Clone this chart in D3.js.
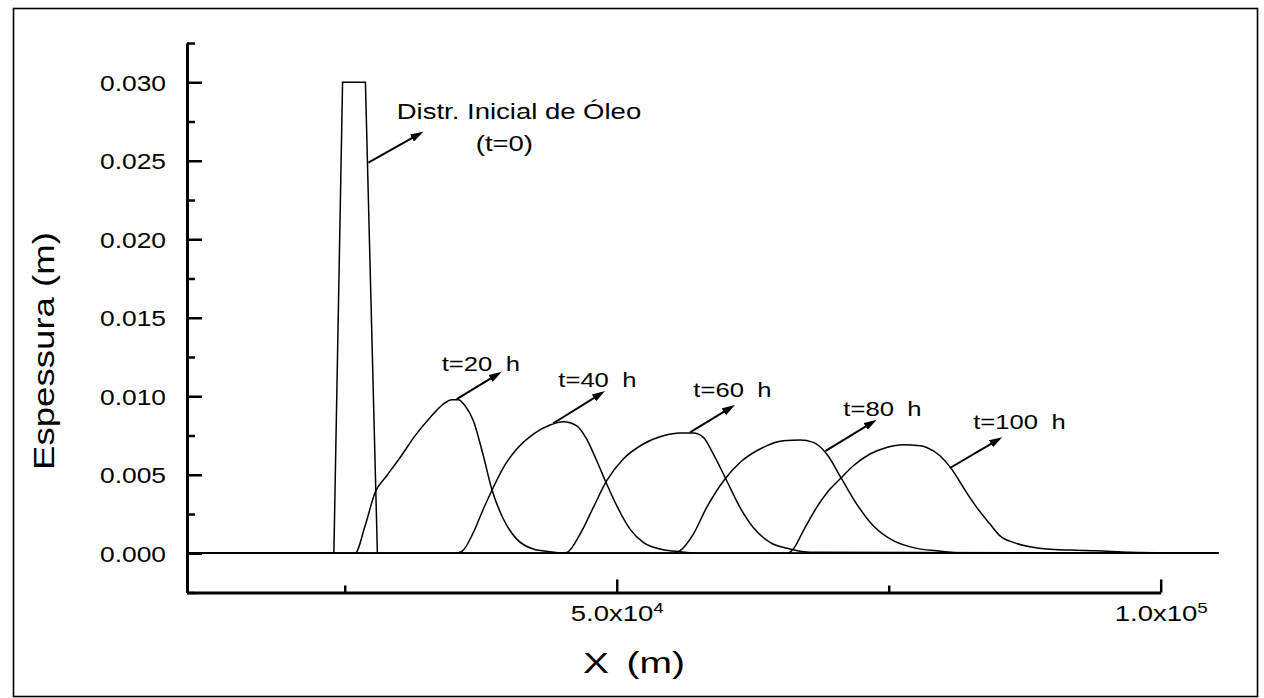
<!DOCTYPE html>
<html>
<head>
<meta charset="utf-8">
<script src="https://cdn.jsdelivr.net/npm/d3@7"></script>
<style>
  html, body { margin: 0; padding: 0; background: #fff; }
  svg { display: block; }
  text { font-family: "Liberation Sans", Arial, Helvetica, sans-serif; fill: #000; }
</style>
</head>
<body>
<svg id="chart" width="1264" height="698"></svg>
<script>
// ---- Oil slick thickness profiles along the channel: X (m) vs Espessura (m) ----

// initial distribution (t = 0)
const xInit = [10500, 24000, 24800, 26900, 28000, 105300];
const hInit = [0, 0, 0.030, 0.030, 0, 0];

// t = 20 h
const x20 = [10500, 25950, 26870, 27790, 28860, 30090, 31470, 32850, 34060, 34830, 35440, 36060,
             36820, 37740, 38510, 39580, 40810, 42330, 43870, 45700, 105300];
const h20 = [0, 0, 0.00175, 0.00387, 0.00494, 0.0061, 0.00749, 0.00865, 0.0095, 0.00978, 0.00978, 0.00939,
             0.00844, 0.00621, 0.00409, 0.00218, 0.0009, 0.00027, 0.0001, 0, 0];

// t = 40 h
const x40 = [10500, 35140, 35750, 36820, 37740, 38510, 39580, 40810, 42330, 43870, 45090, 46320,
             47240, 48160, 49080, 50000, 51220, 52440, 54280, 55820, 57650, 105300];
const h40 = [0, 0, 0.00011, 0.00132, 0.00282, 0.00398, 0.00546, 0.00664, 0.00759, 0.00817, 0.00838, 0.00812,
             0.00727, 0.00589, 0.00441, 0.00303, 0.00154, 0.00069, 0.00022, 0.0001, 0, 0];

// t = 60 h
const x60 = [10500, 44800, 45400, 46630, 47850, 49080, 50600, 52440, 54280, 55820, 57040, 57960,
             58880, 60110, 61330, 62550, 64090, 65930, 67770, 105300];
const h60 = [0, 0, 0.00005, 0.00122, 0.00292, 0.00462, 0.006, 0.00696, 0.00748, 0.00766, 0.00766, 0.00738,
             0.00632, 0.00462, 0.00292, 0.00164, 0.00069, 0.00027, 0.00006, 0];

// t = 80 h
const x80 = [10500, 55200, 55820, 57040, 58270, 59950, 61330, 63170, 65310, 66850, 68070, 69300,
             70680, 72060, 73580, 75420, 77570, 79410, 81550, 105300];
const h80 = [0, 0, 0.00016, 0.00122, 0.00292, 0.00473, 0.00578, 0.00664, 0.00717, 0.00721, 0.00706, 0.00632,
             0.00473, 0.00313, 0.00175, 0.0008, 0.00031, 0.00016, 0.00003, 0];

// t = 100 h
const x100 = [10500, 65700, 66230, 67150, 68380, 69610, 70520, 71750, 73280, 74820, 76340, 77880,
              78490, 79710, 80790, 81860, 83090, 84310, 85230, 86450, 87980, 89520, 91660, 94120,
              97180, 105300];
const h100 = [0, 0, 0.00027, 0.00143, 0.00292, 0.00409, 0.00473, 0.00557, 0.00632, 0.00674, 0.00691, 0.00685,
              0.00674, 0.00621, 0.00536, 0.00419, 0.00292, 0.00186, 0.00111, 0.00069, 0.00041, 0.00027, 0.0002, 0.00016,
              0.00006, 0];

// axis ticks and their labels
const yTicks = [0, 0.005, 0.010, 0.015, 0.020, 0.025, 0.030];
const yTickLabels = ["0.000", "0.005", "0.010", "0.015", "0.020", "0.025", "0.030"];
const yMinorTicks = [-0.0025, 0.0025, 0.0075, 0.0125, 0.0175, 0.0225, 0.0275, 0.0325];
const xTicks = [50000, 100000];
const xTickMantissa = ["5.0", "1.0"];
const xTickExponent = ["4", "5"];
const xMinorTicks = [25000, 75000];

// curve labels
const curveLabels = ["t=20 h", "t=40 h", "t=60 h", "t=80 h", "t=100 h"];

// ---- layout ----
const svg = d3.select("#chart");
const x = d3.scaleLinear().domain([10500, 100000]).range([187, 1160.7]);
const y = d3.scaleLinear().domain([-0.0025, 0.0325]).range([592.5, 43]);
const FONT = '"Liberation Sans", Arial, Helvetica, sans-serif';

// outer frame
svg.append("rect")
  .attr("x", 13.5).attr("y", 8.5).attr("width", 1244).attr("height", 688)
  .attr("fill", "none").attr("stroke", "#000").attr("stroke-width", 1.6);

// arrowhead
svg.append("defs").append("marker")
  .attr("id", "head")
  .attr("viewBox", "0 0 13 8")
  .attr("refX", 5).attr("refY", 4)
  .attr("markerWidth", 13).attr("markerHeight", 8)
  .attr("markerUnits", "userSpaceOnUse")
  .attr("orient", "auto")
  .append("path").attr("d", "M0,0L13,4L0,8Z").attr("fill", "#000");

// ---- profiles ----
const zip = (xs, hs) => xs.map((v, i) => [v, hs[i]]);
const lineLin = d3.line().x(d => x(d[0])).y(d => y(d[1]));
const lineSmooth = d3.line().x(d => x(d[0])).y(d => y(d[1])).curve(d3.curveMonotoneX);

const curves = svg.append("g").attr("fill", "none").attr("stroke", "#000").attr("stroke-width", 1.5);
curves.append("path").attr("d", lineLin(zip(xInit, hInit)));
[[x20, h20], [x40, h40], [x60, h60], [x80, h80], [x100, h100]].forEach(([xs, hs]) => {
  curves.append("path").attr("d", lineSmooth(zip(xs, hs)));
});

// ---- axes ----
const gy = svg.append("g").attr("transform", "translate(187,0)")
  .call(d3.axisLeft(y).tickValues(yTicks).tickFormat((d, i) => yTickLabels[i])
    .tickSizeInner(-15).tickSizeOuter(0).tickPadding(21));
gy.attr("font-family", FONT).attr("font-size", 22);
gy.select(".domain").attr("stroke-width", 3);
gy.selectAll(".tick line").attr("stroke-width", 2.5);
gy.selectAll(".tick text").attr("x", 0).attr("dy", "0.36em")
  .attr("transform", "translate(-21,0) scale(1.2,1)");

const gyMinor = svg.append("g").attr("transform", "translate(187,0)")
  .call(d3.axisLeft(y).tickValues(yMinorTicks).tickFormat("").tickSizeInner(-8).tickSizeOuter(0));
gyMinor.select(".domain").remove();
gyMinor.selectAll(".tick line").attr("stroke-width", 2.5);

const gx = svg.append("g").attr("transform", "translate(0,592.5)")
  .call(d3.axisBottom(x).tickValues(xTicks).tickFormat("")
    .tickSizeInner(-13).tickSizeOuter(0).tickPadding(12.5));
gx.attr("font-family", FONT).attr("font-size", 22);
gx.select(".domain").attr("stroke-width", 3);
gx.selectAll(".tick line").attr("stroke-width", 2.5);
gx.selectAll(".tick text").each(function (d, i) {
  const t = d3.select(this).text(null).attr("transform", "scale(1.25,1)");
  t.append("tspan").text(xTickMantissa[i] + "x10");
  t.append("tspan").attr("dy", "-0.5em").attr("font-size", 15).text(xTickExponent[i]);
});

const gxMinor = svg.append("g").attr("transform", "translate(0,592.5)")
  .call(d3.axisBottom(x).tickValues(xMinorTicks).tickFormat("").tickSizeInner(-7).tickSizeOuter(0));
gxMinor.select(".domain").remove();
gxMinor.selectAll(".tick line").attr("stroke-width", 2.5);

// axis titles
svg.append("text")
  .attr("transform", "translate(43,351) rotate(-90) scale(1.22,1)")
  .attr("text-anchor", "middle").attr("dy", "0.35em")
  .attr("font-size", 30).text("Espessura (m)");
svg.append("text")
  .attr("transform", "translate(634,673) scale(1.3,1)")
  .attr("text-anchor", "middle").attr("word-spacing", 5)
  .attr("font-size", 30).text("X (m)");

// ---- annotations (data units) ----
const arrowFrom = [[27170, 0.02488], [35290, 0.00982], [44170, 0.00828], [56740, 0.0077], [69170, 0.00651], [80630, 0.00543]];
const arrowTo   = [[32220, 0.02685], [39430, 0.01156], [48920, 0.01033], [60870, 0.00944], [73900, 0.00851], [85430, 0.00739]];
const labelAt   = [[33915, 0.01164], [44630, 0.01061], [57040, 0.00997], [70830, 0.00873], [82770, 0.00791]];

const ann = svg.append("g");
arrowFrom.forEach((p0, i) => {
  const x0 = x(p0[0]), y0 = y(p0[1]);
  const x1 = x(arrowTo[i][0]), y1 = y(arrowTo[i][1]);
  const len = Math.hypot(x1 - x0, y1 - y0);
  const ux = (x1 - x0) / len, uy = (y1 - y0) / len;
  ann.append("line")
    .attr("x1", x0).attr("y1", y0)
    .attr("x2", x1 - ux * 8).attr("y2", y1 - uy * 8)
    .attr("stroke", "#000").attr("stroke-width", 2)
    .attr("marker-end", "url(#head)");
});

ann.append("text")
  .attr("transform", `translate(${x(29780)},${y(0.02765)}) scale(1.25,1)`)
  .attr("font-size", 22).text("Distr. Inicial de Óleo");
ann.append("text")
  .attr("transform", `translate(${x(37040)},${y(0.02564)}) scale(1.25,1)`)
  .attr("font-size", 22).text("(t=0)");

curveLabels.forEach((s, i) => {
  ann.append("text")
    .attr("transform", `translate(${x(labelAt[i][0])},${y(labelAt[i][1])}) scale(1.25,1)`)
    .attr("font-size", 20.5).attr("word-spacing", 5).text(s);
});
</script>
</body>
</html>
